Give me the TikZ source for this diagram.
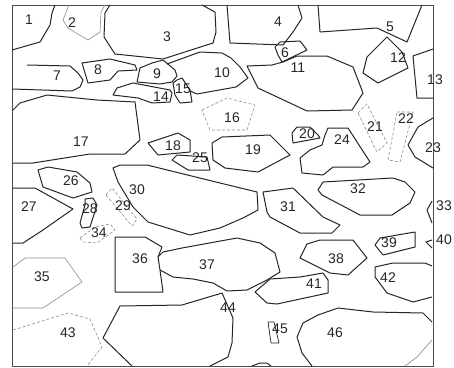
\documentclass[tikz,border=0pt]{standalone}
\usepackage{fontspec}
\setmainfont{Liberation Sans}
\begin{document}
\begin{tikzpicture}[x=1pt,y=-1pt,
  grain/.style={draw=black!85, line width=1pt, line join=round},
  faint/.style={draw=black!45, line width=0.6pt, line join=round},
  dotty/.style={draw=black!45, line width=0.6pt, densely dashed, line join=round},
  lbl/.style={inner sep=0pt, text=black!85, font=\fontsize{14}{14}\selectfont}]
\useasboundingbox (0,0) rectangle (454,367);
\fill[white] (0,0) rectangle (454,367);
\draw[draw=black!70, line width=0.8pt] (12,5) rectangle (433,366);
% grains
\draw[grain] (55,5)--(52,13)--(50,25)--(40,42)--(12,50);
\draw[faint] (69,5)--(63,20)--(68,28)--(88,40)--(100,32)--(101,12)--(105,5);
\draw[grain] (110,5)--(105,13)--(104,37)--(115,54)--(163,59)--(213,43)--(216,32)--(215,12)--(202,5);
\draw[grain] (227,5)--(230,43)--(283,45)--(293,32)--(302,18)--(298,5);
\draw[grain] (318,5)--(320,32)--(377,28)--(407,42)--(422,5);
\draw[grain] (275,47)--(280,42)--(300,41)--(307,50)--(282,62)--(278,55)--cycle;
\draw[grain] (27,65)--(70,66)--(78,73)--(83,80)--(80,87)--(72,91)--(12,89);
\draw[grain] (82,63)--(110,59)--(135,65)--(137,70)--(118,71)--(110,80)--(88,83)--(85,73)--cycle;
\draw[grain] (163,60)--(175,70)--(177,76)--(172,82)--(160,84)--(137,82)--(140,68)--(152,63)--cycle;
\draw[grain] (167,64)--(200,52)--(222,53)--(231,58)--(240,67)--(248,78)--(236,87)--(197,94)--(190,91);
\draw[grain] (247,66)--(272,65)--(283,62)--(297,56)--(327,56)--(353,67)--(363,93)--(352,110)--(307,111)--(258,88)--cycle;
\draw[grain] (387,37)--(402,52)--(408,68)--(378,83)--(363,73)--(367,57)--cycle;
\draw[grain] (433,49)--(413,56)--(417,98)--(433,98);
\draw[grain] (113,95)--(117,88)--(133,83)--(170,90)--(172,93)--(170,102)--(152,103)--(138,98)--cycle;
\draw[grain] (173,83)--(177,80)--(182,78)--(190,90)--(192,102)--(180,103)--(175,95)--cycle;
\draw[dotty] (202,110)--(227,98)--(255,105)--(247,130)--(210,130)--cycle;
\draw[grain] (13,110)--(20,103)--(47,95)--(97,100)--(135,102)--(140,140)--(125,154)--(90,154)--(33,163)--(13,163);
\draw[grain] (148,143)--(178,133)--(190,140)--(190,152)--(158,155)--cycle;
\draw[grain] (212,143)--(222,137)--(270,135)--(290,155)--(258,172)--(225,168)--(213,160)--cycle;
\draw[grain] (292,133)--(297,127)--(310,127)--(318,135)--(320,138)--(293,143)--cycle;
\draw[dotty] (358,113)--(367,104)--(387,143)--(377,152)--cycle;
\draw[dotty] (397,112)--(413,112)--(400,162)--(388,160)--cycle;
\draw[grain] (433,118)--(418,127)--(408,145)--(415,157)--(433,168);
\draw[grain] (328,128)--(348,128)--(370,162)--(363,167)--(333,167)--(323,175)--(302,173)--(300,158)--(310,150)--(322,145)--(325,135)--cycle;
\draw[grain] (172,160)--(177,155)--(207,157)--(210,170)--(188,170)--cycle;
\draw[grain] (38,170)--(48,167)--(77,172)--(90,183)--(92,192)--(73,198)--(43,187)--cycle;
\draw[grain] (12,188)--(35,188)--(73,209)--(43,230)--(23,243)--(13,243);
\draw[grain] (85,199)--(93,198)--(97,205)--(90,227)--(82,228)--(80,223)--(85,205)--cycle;
\draw[dotty] (106,195)--(112,188)--(137,219)--(132,226)--cycle;
\draw[grain] (113,168)--(120,165)--(147,165)--(220,183)--(257,192)--(258,210)--(243,218)--(220,228)--(190,235)--(148,222)--(133,207)--(118,182)--cycle;
\draw[grain] (263,192)--(293,188)--(323,217)--(340,225)--(332,233)--(300,233)--(270,217)--(267,212)--cycle;
\draw[grain] (323,182)--(393,178)--(405,182)--(415,192)--(410,203)--(392,215)--(360,215)--(322,195)--(318,190)--cycle;
\draw[grain] (432,201)--(427,210)--(432,223);
\draw[dotty] (80,238)--(95,227)--(110,224)--(115,230)--(97,243)--(83,242)--cycle;
\draw[faint] (13,267)--(25,258)--(65,258)--(82,282)--(43,308)--(13,308);
\draw[grain] (115,237)--(145,237)--(162,247)--(158,257)--(160,270)--(163,292)--(115,292)--cycle;
\draw[grain] (158,257)--(163,252)--(182,248)--(237,238)--(260,243)--(275,253)--(280,272)--(267,280)--(247,290)--(227,291)--(213,283)--(193,279)--(173,277)--(160,270);
\draw[grain] (307,244)--(320,240)--(353,240)--(367,258)--(348,275)--(330,273)--(300,258)--cycle;
\draw[grain] (380,238)--(415,232)--(415,247)--(383,255)--(375,245)--cycle;
\draw[grain] (432,240)--(426,242)--(432,248);
\draw[grain] (255,292)--(270,279)--(300,277)--(323,273)--(328,280)--(328,293)--(277,304)--(267,303)--cycle;
\draw[grain] (432,266)--(425,263)--(393,263)--(375,267)--(375,277)--(387,293)--(413,302)--(432,297);
\draw[dotty] (13,330)--(68,313)--(90,319)--(102,347)--(87,366);
\draw[grain] (132,366)--(103,338)--(120,306)--(182,305)--(222,293)--(233,318)--(232,343)--(228,357)--(210,366);
\draw[grain, line width=0.7pt] (268,322)--(274,322)--(279,343)--(271,343)--cycle;
\draw[grain] (312,366)--(302,353)--(297,337)--(303,323)--(318,315)--(338,308)--(373,312)--(423,313)--(432,322);
\draw[faint] (432,340)--(417,357)--(405,366);
\draw[grain] (252,366)--(260,363)--(267,363)--(271,366);
% labels
\node[lbl] (l1) at (29,20) {1};
\node[lbl] (l2) at (72,23) {2};
\node[lbl] (l3) at (167,37) {3};
\node[lbl] (l4) at (278,22) {4};
\node[lbl] (l5) at (390,27) {5};
\node[lbl] (l6) at (285,53) {6};
\node[lbl] (l7) at (57,76) {7};
\node[lbl] (l8) at (98,70) {8};
\node[lbl] (l9) at (157,74) {9};
\node[lbl] (l10) at (222,73) {10};
\node[lbl] (l11) at (298,68) {11};
\node[lbl] (l12) at (398,58) {12};
\node[lbl] (l13) at (435,80) {13};
\node[lbl] (l14) at (161,97) {14};
\node[lbl] (l15) at (183,89) {15};
\node[lbl] (l16) at (232,118) {16};
\node[lbl] (l17) at (81,142) {17};
\node[lbl] (l18) at (173,146) {18};
\node[lbl] (l19) at (253,150) {19};
\node[lbl] (l20) at (307,134) {20};
\node[lbl] (l21) at (375,127) {21};
\node[lbl] (l22) at (406,119) {22};
\node[lbl] (l23) at (433,148) {23};
\node[lbl] (l24) at (342,140) {24};
\node[lbl] (l25) at (200,158) {25};
\node[lbl] (l26) at (71,181) {26};
\node[lbl] (l27) at (29,207) {27};
\node[lbl] (l28) at (90,209) {28};
\node[lbl] (l29) at (123,206) {29};
\node[lbl] (l30) at (137,190) {30};
\node[lbl] (l31) at (288,207) {31};
\node[lbl] (l32) at (358,189) {32};
\node[lbl] (l33) at (444,206) {33};
\node[lbl] (l34) at (99,233) {34};
\node[lbl] (l35) at (42,277) {35};
\node[lbl] (l36) at (140,259) {36};
\node[lbl] (l37) at (207,265) {37};
\node[lbl] (l38) at (336,259) {38};
\node[lbl] (l39) at (389,243) {39};
\node[lbl] (l40) at (444,240) {40};
\node[lbl] (l41) at (314,284) {41};
\node[lbl] (l42) at (388,278) {42};
\node[lbl] (l43) at (68,333) {43};
\node[lbl] (l44) at (228,308) {44};
\node[lbl] (l45) at (280,329) {45};
\node[lbl] (l46) at (335,333) {46};
\end{tikzpicture}
\end{document}
